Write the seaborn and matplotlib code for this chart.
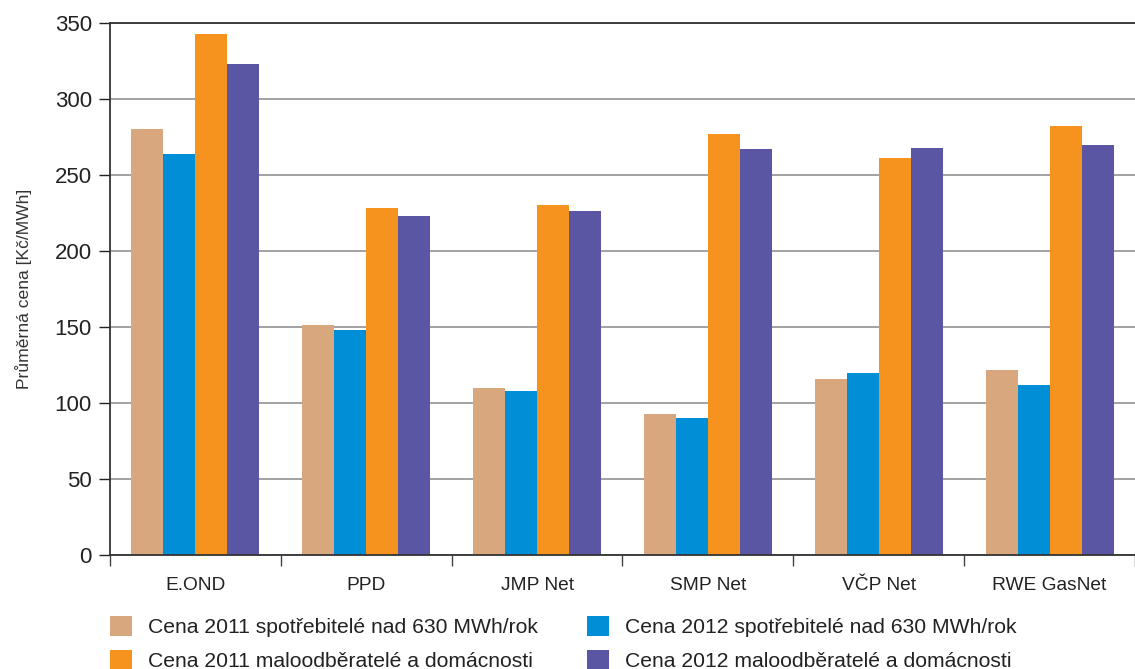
import matplotlib
matplotlib.use("Agg")
import matplotlib.pyplot as plt
import seaborn as sns
import pandas as pd
import numpy as np
from matplotlib.patches import Patch
from matplotlib.ticker import FixedLocator, MultipleLocator

# data
firmy = ['E.OND', 'PPD', 'JMP Net', 'SMP Net', 'VČP Net', 'RWE GasNet']
serie = ['Cena 2011 spotřebitelé nad 630 MWh/rok',
         'Cena 2012 spotřebitelé nad 630 MWh/rok',
         'Cena 2011 maloodběratelé a domácnosti',
         'Cena 2012 maloodběratelé a domácnosti']
cena_2011_velci = [280, 151, 110, 93, 116, 122]
cena_2012_velci = [264, 148, 108, 90, 120, 112]
cena_2011_mali = [343, 228, 230, 277, 261, 282]
cena_2012_mali = [323, 223, 226, 267, 268, 270]
barvy = ['#D8A77D', '#008ED6', '#F6921E', '#5A56A4']

hodnoty = [cena_2011_velci, cena_2012_velci, cena_2011_mali, cena_2012_mali]
df = pd.DataFrame({
    'firma': np.tile(firmy, len(serie)),
    'serie': np.repeat(serie, len(firmy)),
    'cena': np.concatenate(hodnoty),
})

sns.set_theme(style='white')
plt.rcParams['font.family'] = ['Liberation Sans', 'DejaVu Sans']

fig = plt.figure(figsize=(11.35, 6.69), dpi=100)
ax = fig.add_axes([0.0969, 0.1704, 0.9031, 0.7952])

sns.barplot(data=df, x='firma', y='cena', hue='serie', order=firmy,
            hue_order=serie, palette=barvy, width=0.75, saturation=1,
            edgecolor='none', linewidth=0, ax=ax, legend=False)

ax.set_ylim(0, 350)
ax.set_xlim(-0.5, len(firmy) - 0.5)
ax.yaxis.set_major_locator(MultipleLocator(50))
ax.grid(axis='y', color='#9a9a9a', linewidth=1.3)
ax.set_axisbelow(True)

# popisky
ax.set_xlabel('')
ax.set_ylabel('Průměrná cena [Kč/MWh]', fontsize=12.6, color='#333333', labelpad=16)
ax.tick_params(axis='y', labelsize=16, colors='#222222', length=8, width=1,
               direction='out', left=True, pad=5)
ax.tick_params(axis='x', which='major', labelsize=13.8, colors='#222222', length=0, pad=16)
ax.xaxis.set_minor_locator(FixedLocator(np.arange(-0.5, len(firmy), 1.0)))
ax.tick_params(axis='x', which='minor', bottom=True, length=8, width=1, color='#444444')

for s in ['left', 'bottom', 'top']:
    ax.spines[s].set_visible(True)
    ax.spines[s].set_color('#333333')
    ax.spines[s].set_linewidth(1.3)
ax.spines['right'].set_visible(False)

# legenda
poradi = [0, 2, 1, 3]
handles = [Patch(facecolor=barvy[i], edgecolor='none', label=serie[i]) for i in poradi]
fig.legend(handles=handles, loc='upper left', bbox_to_anchor=(0.097, 0.079),
           ncol=2, frameon=False, fontsize=15.2, handlelength=1.05, handleheight=1.05,
           handletextpad=0.75, columnspacing=2.3, labelspacing=0.62,
           labelcolor='#222222', borderaxespad=0, borderpad=0)

fig.savefig('out.png', dpi=100)
